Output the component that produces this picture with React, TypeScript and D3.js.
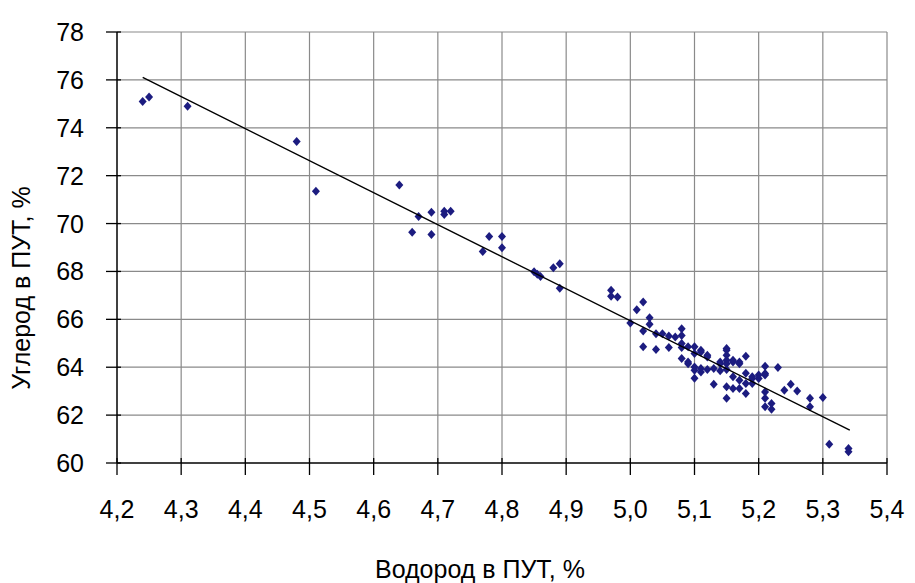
import React from "react";
import * as d3 from "d3";

// Водород (x) / Углерод (y), % — точки читаны с графика
const hydrogen = [
  4.24, 4.25, 4.31, 4.48, 4.51, 4.64, 4.66, 4.67, 4.69, 4.69, 4.71, 4.71, 4.72,
  4.77, 4.78, 4.8, 4.8, 4.85, 4.855, 4.86, 4.88, 4.89, 4.89, 4.97, 4.97, 4.98,
  5.0, 5.01, 5.02, 5.02, 5.02, 5.03, 5.03, 5.04, 5.04, 5.05, 5.06, 5.06, 5.07,
  5.08, 5.08, 5.08, 5.08, 5.08, 5.09, 5.09, 5.09, 5.1, 5.1, 5.1, 5.1, 5.1,
  5.11, 5.11, 5.11, 5.11, 5.12, 5.12, 5.12, 5.13, 5.13, 5.14, 5.14, 5.14,
  5.15, 5.15, 5.15, 5.15, 5.15, 5.15, 5.15, 5.15, 5.16, 5.16, 5.16, 5.16,
  5.17, 5.17, 5.17, 5.17, 5.18, 5.18, 5.18, 5.18, 5.19, 5.19, 5.19, 5.2, 5.2,
  5.21, 5.21, 5.21, 5.21, 5.21, 5.21, 5.22, 5.22, 5.23, 5.24, 5.25, 5.26,
  5.28, 5.28, 5.3, 5.31, 5.34, 5.34,
];
const carbon = [
  75.1, 75.29, 74.9, 73.43, 71.35, 71.61, 69.64, 70.29, 70.47, 69.54, 70.51,
  70.38, 70.51, 68.83, 69.46, 69.46, 68.99, 67.99, 67.88, 67.79, 68.15, 68.32,
  67.3, 67.21, 66.96, 66.93, 65.85, 66.4, 66.72, 65.51, 64.85, 66.07, 65.79,
  65.4, 64.74, 65.4, 65.3, 64.82, 65.26, 65.61, 65.33, 64.99, 64.82, 64.36,
  64.85, 64.15, 64.22, 64.57, 64.85, 64.01, 63.87, 63.54, 64.71, 64.64, 63.95,
  63.8, 64.5, 64.43, 63.9, 63.29, 63.95, 64.22, 64.15, 63.85, 64.78, 64.71,
  64.5, 64.29, 64.15, 63.18, 62.7, 63.9, 64.29, 64.22, 63.6, 63.11, 64.22,
  64.15, 63.46, 63.11, 64.46, 63.32, 62.9, 63.75, 63.6, 63.53, 63.32, 63.67,
  63.53, 64.04, 63.74, 63.67, 62.97, 62.7, 62.35, 62.49, 62.24, 63.99, 63.04,
  63.29, 63.01, 62.7, 62.35, 62.74, 60.78, 60.61, 60.47,
];

// линия тренда (концы)
const trendX = [4.24, 5.342];
const trendY = [76.1, 61.37];

const xTicks = [4.2, 4.3, 4.4, 4.5, 4.6, 4.7, 4.8, 4.9, 5.0, 5.1, 5.2, 5.3, 5.4];
const yTicks = [60, 62, 64, 66, 68, 70, 72, 74, 76, 78];

const width = 915;
const height = 583;
const left = 117;
const right = 887;
const top = 32;
const bottom = 463;
const font = "'Liberation Sans', Arial, sans-serif";

export default function App() {
  const x = d3.scaleLinear().domain([4.2, 5.4]).range([left, right]);
  const y = d3.scaleLinear().domain([60, 78]).range([bottom, top]);
  const fmt = (v: number) => d3.format(".1f")(v).replace(".", ",");
  const line = d3
    .line<number>()
    .x((d, i) => x(trendX[i]))
    .y((d) => y(d));

  const diamond = "M0,-4.5L4,0L0,4.5L-4,0Z";

  return (
    <svg
      width={width}
      height={height}
      style={{ position: "absolute", left: 0, top: 0, background: "#fff" }}
      fontFamily={font}
    >
      {/* сетка */}
      {xTicks.slice(1).map((t) => (
        <line key={"gx" + t} x1={x(t)} x2={x(t)} y1={top} y2={bottom} stroke="#8a8a8a" strokeWidth={1.2} />
      ))}
      {yTicks.slice(1).map((t) => (
        <line key={"gy" + t} x1={left} x2={right} y1={y(t)} y2={y(t)} stroke="#8a8a8a" strokeWidth={1.2} />
      ))}

      {/* оси */}
      <line x1={left} x2={left} y1={top} y2={bottom} stroke="#000" strokeWidth={1.5} />
      <line x1={left} x2={right} y1={bottom} y2={bottom} stroke="#000" strokeWidth={1.5} />
      {yTicks.map((t) => (
        <g key={"ty" + t}>
          <line x1={left - 11} x2={left + 4} y1={y(t)} y2={y(t)} stroke="#000" strokeWidth={1.3} />
          <text x={84} y={y(t)} dy="0.36em" textAnchor="end" fontSize={25} fill="#000">
            {t}
          </text>
        </g>
      ))}
      {xTicks.map((t) => (
        <g key={"tx" + t}>
          <line x1={x(t)} x2={x(t)} y1={bottom - 5} y2={bottom + 12} stroke="#000" strokeWidth={1.3} />
          <text x={x(t)} y={518} textAnchor="middle" fontSize={25} fill="#000">
            {fmt(t)}
          </text>
        </g>
      ))}

      {/* точки */}
      {hydrogen.map((h, i) => (
        <path key={"p" + i} d={diamond} transform={`translate(${x(h)},${y(carbon[i])})`} fill="#1c1c80" />
      ))}

      {/* тренд */}
      <path d={line(trendY) || ""} fill="none" stroke="#000" strokeWidth={1.4} />

      {/* подписи осей */}
      <text x={480} y={578} textAnchor="middle" fontSize={25} fill="#000">
        Водород в ПУТ, %
      </text>
      <text
        transform="translate(30,288) rotate(-90)"
        textAnchor="middle"
        fontSize={25}
        fill="#000"
      >
        Углерод в ПУТ, %
      </text>
    </svg>
  );
}
